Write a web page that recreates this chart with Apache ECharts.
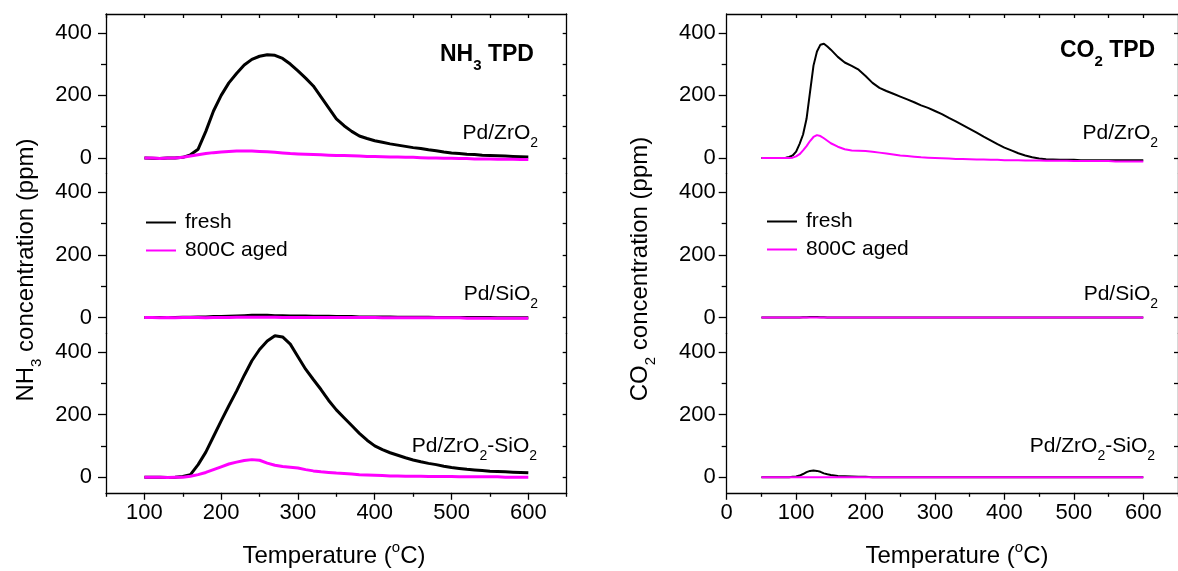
<!DOCTYPE html>
<html><head><meta charset="utf-8">
<script src="https://cdn.jsdelivr.net/npm/echarts@6/dist/echarts.min.js"></script>
<style>html,body{margin:0;padding:0;background:#fff}#c{width:1178px;height:571px}</style>
</head><body><div id="c"></div>
<script>
// ---------------- data ----------------
const nh3Temp = [100,110,120,130,140,150,160,170,180,190,200,210,220,230,240,250,260,270,280,290,300,310,320,330,340,350,360,370,380,390,400,410,420,430,440,450,460,470,480,490,500,510,520,530,540,550,560,570,580,590,600];
const nh3ZrFresh = [0,-1,-2,0,0,2,10,28,85,150, 200,240,270,297,315,325,330,328,318,300, 278,255,230,195,160,125,103,85,70,62, 55,50,45,41,37,33,30,26,23,19, 16,14,12,11,9,8,7,6,5,4, 3];
const nh3ZrAged  = [0,0,-2,0,0,2,6,10,14,17, 19,21,22,22,22,21,20,18,16,14, 13,12,11,10,9,8,8,7,6,5, 5,4,3,3,2,2,1,0,0,-1, -1,-2,-2,-3,-3,-3,-4,-4,-4,-5, -5];
const nh3SiFresh = [0,0,0,0,0,1,1,2,2,3, 3,4,5,6,7,7,7,6,6,5, 5,5,4,4,4,3,3,3,2,2, 2,2,2,1,1,1,1,1,0,0, 0,0,0,0,0,0,-1,-1,-1,-1, -1];
const nh3SiAged  = [0,0,-1,0,-1,0,0,0,-1,0, 0,0,1,1,1,1,1,1,0,0, 0,0,0,0,0,0,0,0,0,0, 0,-1,-1,-1,-1,-1,-1,-1,-1,-1, -1,-1,-2,-2,-2,-2,-2,-2,-2,-2, -2];
const nh3ZrSiFresh = [0,0,0,-1,0,2,8,40,80,130, 180,228,275,325,372,408,435,452,448,425, 385,345,312,280,245,215,190,165,140,118, 100,88,78,70,62,55,49,44,40,35, 31,28,25,23,21,19,18,17,16,15, 14];
const nh3ZrSiAged  = [0,0,0,-1,0,0,3,8,15,24, 33,42,48,53,56,54,45,38,34,32, 29,24,20,17,15,13,12,10,8,7, 6,5,4,4,3,3,3,2,2,2, 2,1,1,1,1,1,1,0,0,0, 0];

const co2Temp = [50,60,70,80,85,90,95,100,105,110,115,120,125,130,135,140,145,150,160,170,180,190,200,210,220,230,240,250,260,270,280,290,300,310,320,330,340,350,360,370,380,390,400,410,420,430,440,450,460,470,480,490,500,510,520,530,540,550,560,570,580,590,600];
const co2ZrFresh = [0,0,0,0,1,3,8,20,45,75,125,210,295,340,362,365,356,346, 323,305,294,282,262,240,224,214,205,196, 187,178,168,160,150,140,128,117,105,93, 81,68,56,44,33,24,15,8,2,-2, -4,-5,-6,-6,-6,-7,-7,-7,-7,-7, -7,-7,-7,-7,-7];
const co2ZrAged  = [0,0,0,0,0,0,1,5,12,24,38,54,67,73,70,63,55,47, 36,28,24,23,22,20,17,14,11,8, 6,4,2,1,0,-1,-2,-3,-3,-4, -5,-5,-6,-6,-7,-7,-7,-8,-8,-8, -9,-9,-9,-9,-10,-10,-10,-10,-10,-10, -11,-11,-11,-11,-11];
const co2SiFresh = [0,0,0,0,0,0,0,0,0,1,1,2,2,2,1,1,0,0, 0,0,0,0,0,0,0,0,0,0, 0,0,0,0,0,0,0,0,0,0, 0,0,0,0,0,0,0,0,0,0, 0,0,0,0,0,0,0,0,0,0, 0,0,0,0,0];
const co2SiAged  = [0,0,0,0,0,0,0,0,0,0,0,0,0,0,0,0,0,0, 0,0,0,0,0,0,0,0,0,0, 0,0,0,0,0,0,0,0,0,0, 0,0,0,0,0,0,0,0,0,0, 0,0,0,0,0,0,0,0,0,0, 0,0,0,0,0];
const co2ZrSiFresh = [0,0,0,0,0,0,1,2,5,10,16,20,21,20,17,12,9,7, 4,3,2,1,1,0,0,0,0,0, 0,0,0,0,0,0,0,0,0,0, 0,0,0,0,0,0,0,0,0,0, 0,0,0,0,0,0,0,0,0,0, 0,0,0,0,0];
const co2ZrSiAged  = [0,0,0,0,0,0,0,0,0,0,0,0,0,0,0,0,0,0, 0,0,0,0,0,0,0,0,0,0, 0,0,0,0,0,0,0,0,0,0, 0,0,0,0,0,0,0,0,0,0, 0,0,0,0,0,0,0,0,0,0, 0,0,0,0,0];

const seriesNames = ['fresh', '800C aged'];
const nh3XTicks = [100,200,300,400,500,600];
const nh3XMinor = [50,150,250,350,450,550,650];
const co2XTicks = [0,100,200,300,400,500,600];
const co2XMinor = [50,150,250,350,450,550,650];
const topTicks = [50,100,150,200,250,300,350,400,450,500,550,600];
const yTicks = [0,200,400];
const yMinorTicks = [100,300];
const yRightTicks = [0,100,200,300,400];

// ---------------- layout ----------------
const FONT = '"Liberation Sans", Arial, Helvetica, sans-serif';
const gridTops = [14, 173.6, 333.2];
const gridH = 159.6;
const AX = {color:'#000', width:1.3};

const panels = [
  {left:106, width:460.7, xmin:50, xmax:650, xTicks:nh3XTicks, xMinor:nh3XMinor, temps:nh3Temp,
   sets:[[nh3ZrFresh,nh3ZrAged],[nh3SiFresh,nh3SiAged],[nh3ZrSiFresh,nh3ZrSiAged]], lw:3, yMargin:14},
  {left:726.7, width:460.4, xmin:0, xmax:650, xTicks:co2XTicks, xMinor:co2XMinor, temps:co2Temp,
   sets:[[co2ZrFresh,co2ZrAged],[co2SiFresh,co2SiAged],[co2ZrSiFresh,co2ZrSiAged]], lw:2, yMargin:11}
];

const grids=[], xAxes=[], yAxes=[], series=[];
panels.forEach(p => {
  gridTops.forEach((top, r) => {
    const g = grids.length;
    grids.push({left:p.left, top:top, width:p.width, height:gridH});
    const xi = xAxes.length;
    xAxes.push({
      type:'value', gridIndex:g, min:p.xmin, max:p.xmax, position:'bottom', show:r===2,
      axisLine:{show:true, onZero:false, lineStyle:AX},
      axisTick:{show:true, inside:false, length:7, customValues:p.xTicks, lineStyle:AX},
      axisLabel:{show:true, customValues:p.xTicks, margin:9, fontSize:22, color:'#000', fontFamily:FONT},
      splitLine:{show:false}
    });
    if (r===2) xAxes.push({
      type:'value', gridIndex:g, min:p.xmin, max:p.xmax, position:'bottom',
      axisLine:{show:false, onZero:false},
      axisTick:{show:true, inside:false, length:4, customValues:p.xMinor, lineStyle:AX},
      axisLabel:{show:false}, splitLine:{show:false}
    });
    if (r===0) xAxes.push({
      type:'value', gridIndex:g, min:p.xmin, max:p.xmax, position:'top',
      axisLine:{show:true, onZero:false, lineStyle:AX},
      axisTick:{show:true, inside:true, length:4, customValues:topTicks, lineStyle:AX},
      axisLabel:{show:false}, splitLine:{show:false}
    });
    const yi = yAxes.length;
    yAxes.push({
      type:'value', gridIndex:g, min:-50, max:460, position:'left',
      axisLine:{show:true, onZero:false, lineStyle:AX},
      axisTick:{show:true, inside:false, length:8, customValues:yTicks, lineStyle:AX},
      axisLabel:{show:true, customValues:yTicks, margin:p.yMargin, fontSize:22, color:'#000', fontFamily:FONT},
      splitLine:{show:false}
    });
    yAxes.push({
      type:'value', gridIndex:g, min:-50, max:460, position:'left',
      axisLine:{show:false, onZero:false},
      axisTick:{show:true, inside:false, length:5, customValues:yMinorTicks, lineStyle:AX},
      axisLabel:{show:false}, splitLine:{show:false}
    });
    yAxes.push({
      type:'value', gridIndex:g, min:-50, max:460, position:'right',
      axisLine:{show:true, onZero:false, lineStyle:AX},
      axisTick:{show:true, inside:true, length:4, customValues:yRightTicks, lineStyle:AX},
      axisLabel:{show:false}, splitLine:{show:false}
    });
    const [fresh, aged] = p.sets[r];
    series.push({type:'line', name:seriesNames[0], xAxisIndex:xi, yAxisIndex:yi, showSymbol:false, symbol:'none',
      color:'#000', lineStyle:{color:'#000', width:p.lw}, data:p.temps.map((t,i)=>[t,fresh[i]])});
    series.push({type:'line', name:seriesNames[1], xAxisIndex:xi, yAxisIndex:yi, showSymbol:false, symbol:'none',
      color:'#ff00ff', lineStyle:{color:'#ff00ff', width:p.lw}, data:p.temps.map((t,i)=>[t,aged[i]])});
  });
});

function txt(x, y, text, rich, align, rotation) {
  return {type:'text', x:x, y:y, rotation:rotation||0, silent:true,
    style:{x:0, y:0, text:text, rich:rich, fill:'#000', textAlign:align||'center', align:align||'center',
      textVerticalAlign:'middle', verticalAlign:'middle', font:'21px '+FONT}};
}
const richLab = {a:{fontSize:21, fontFamily:FONT, color:'#000'}, s:{fontSize:14, fontFamily:FONT, color:'#000', padding:[21,0,0,0]}};
const richTitle = {a:{fontSize:24, fontFamily:FONT, color:'#000'}, s:{fontSize:15, fontFamily:FONT, color:'#000', padding:[22,0,0,0]},
  p:{fontSize:15, fontFamily:FONT, color:'#000', padding:[0,0,16,0]}};
const richBold = {b:{fontSize:23, fontWeight:'bold', fontFamily:FONT, color:'#000'}, s:{fontSize:15, fontWeight:'bold', fontFamily:FONT, color:'#000', padding:[22,0,0,0]}};

const graphics = [
  txt(26, 270, '{a|NH}{s|3}{a| concentration (ppm)}', richTitle, 'center', Math.PI/2),
  txt(640, 269, '{a|CO}{s|2}{a| concentration (ppm)}', richTitle, 'center', Math.PI/2),
  txt(334, 556, '{a|Temperature (}{p|o}{a|C)}', richTitle, 'center'),
  txt(957, 556, '{a|Temperature (}{p|o}{a|C)}', richTitle, 'center'),
  txt(440, 55, '{b|NH}{s|3}{b| TPD}', richBold, 'left'),
  txt(1060, 51, '{b|CO}{s|2}{b| TPD}', richBold, 'left'),
  txt(538, 133, '{a|Pd/ZrO}{s|2}', richLab, 'right'),
  txt(538, 294, '{a|Pd/SiO}{s|2}', richLab, 'right'),
  txt(537, 446, '{a|Pd/ZrO}{s|2}{a|-SiO}{s|2}', richLab, 'right'),
  txt(1158, 133, '{a|Pd/ZrO}{s|2}', richLab, 'right'),
  txt(1158, 294, '{a|Pd/SiO}{s|2}', richLab, 'right'),
  txt(1155, 446, '{a|Pd/ZrO}{s|2}{a|-SiO}{s|2}', richLab, 'right')
];

const legendBase = {orient:'vertical', padding:0, itemWidth:30, itemHeight:2, itemGap:7, icon:'rect',
  data:seriesNames, selectedMode:false,
  textStyle:{fontSize:21, fontFamily:FONT, color:'#000', padding:[0,0,0,4]}};

const chart = echarts.init(document.getElementById('c'), null, {renderer:'canvas'});
chart.setOption({
  animation:false,
  backgroundColor:'#fff',
  grid:grids, xAxis:xAxes, yAxis:yAxes, series:series,
  legend:[Object.assign({left:146, top:212}, legendBase), Object.assign({left:767, top:211}, legendBase)],
  graphic:graphics
});
</script>
</body></html>
